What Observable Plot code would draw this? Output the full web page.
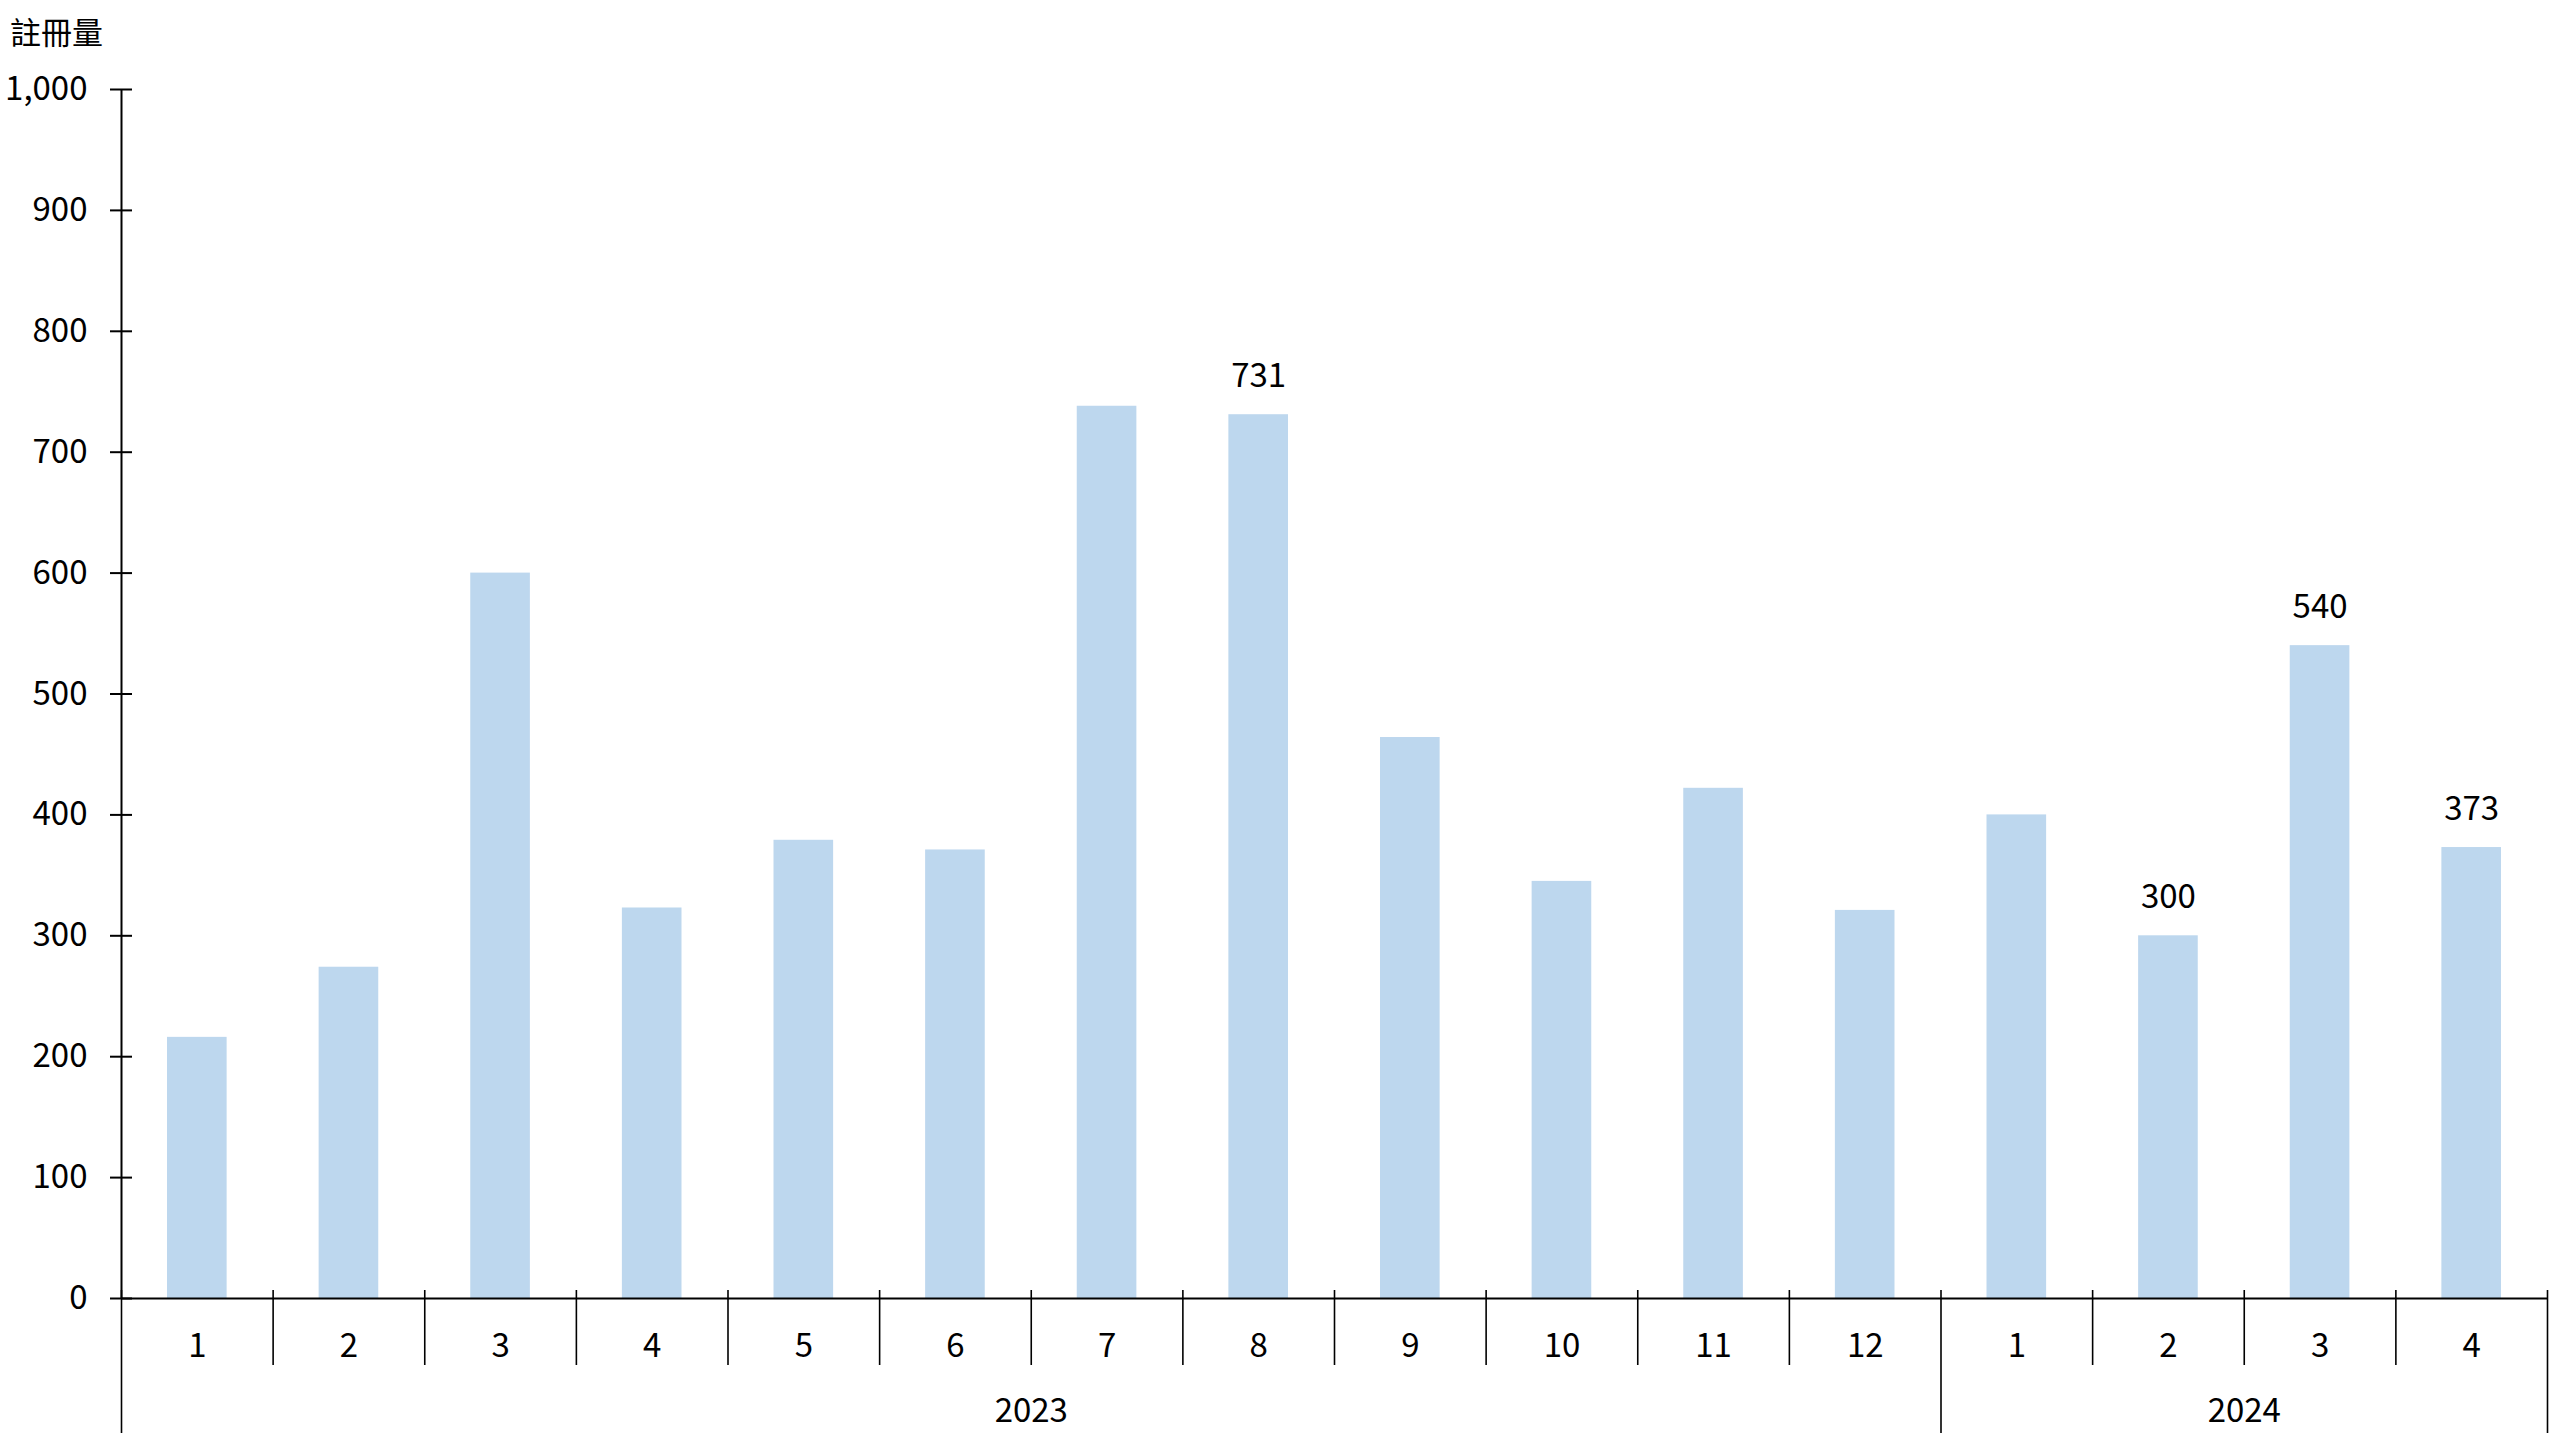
<!DOCTYPE html>
<html><head><meta charset="utf-8">
<script src="https://cdn.jsdelivr.net/npm/d3@7"></script>
<script src="https://cdn.jsdelivr.net/npm/@observablehq/plot@0.6"></script>
<style>
html,body{margin:0;padding:0;background:#fff;}
#title{height:60px;box-sizing:border-box;padding:15px 0 0 10px;font-family:"Noto Sans CJK TC",sans-serif;font-size:31px;line-height:1;color:#000;}
#chart svg{display:block;}
</style></head><body>
<div id="title">註冊量</div>
<div id="chart"></div>
<script>
const monthLabels = ["1","2","3","4","5","6","7","8","9","10","11","12","1","2","3","4"];
const yearOf = ["2023","2023","2023","2023","2023","2023","2023","2023","2023","2023","2023","2023","2024","2024","2024","2024"];
const values = [216,274,600,323,379,371,738,731,464,345,422,321,400,300,540,373];
const labeled = [false,false,false,false,false,false,false,true,false,false,false,false,false,true,true,true];
const yTicks = [0,100,200,300,400,500,600,700,800,900,1000];
const yDomain = [0,1000];

const FONT = '"Noto Sans CJK TC", "Noto Sans", sans-serif';
const data = values.map((v,i)=>({i, month: monthLabels[i], year: yearOf[i], value: v, labeled: labeled[i]}));
const n = data.length;
const yearGroups = d3.groups(data, d=>d.year).map(([year, rows]) => ({year, start: rows[0].i, end: rows[rows.length-1].i+1}));
const yearStarts = new Set(yearGroups.map(g=>g.start));
const monthBoundaries = data.map(d=>d.i).filter(i => i>0 && !yearStarts.has(i));
const yearBoundaries = Array.from(new Set(yearGroups.flatMap(g=>[g.start,g.end])));
const yearCenters = yearGroups.map(g=>(g.start+g.end)/2);
const yearLabelAt = new Map(yearGroups.map(g=>[(g.start+g.end)/2, g.year]));

const chart = Plot.plot({
  width: 2560, height: 1380,
  marginTop: 29, marginRight: 13, marginBottom: 142, marginLeft: 121,
  style: {fontFamily: FONT, fontSize: "33px", color: "#000", background: "#fff", overflow: "visible"},
  x: {type: "linear", domain: [0, n], axis: null},
  y: {domain: yDomain, axis: null},
  marks: [
    Plot.rectY(data, {x1: d=>d.i, x2: d=>d.i+1, y: "value", fill: "#BDD7EE", insetLeft: 46, insetRight: 46}),
    Plot.ruleX([0], {stroke: "#000", strokeWidth: 2}),
    Plot.ruleY([0], {stroke: "#000", strokeWidth: 2}),
    Plot.axisY({ticks: yTicks, tickSize: 22, dx: 11, tickFormat: () => "", strokeWidth: 2, label: null}),
    Plot.axisY({ticks: yTicks, tickSize: 0, tickPadding: 34, tickFormat: d3.format(","), label: null}),
    Plot.axisX({ticks: monthBoundaries, tickSize: 75, dy: -8, tickFormat: () => "", strokeWidth: 1.6, label: null}),
    Plot.axisX({ticks: yearBoundaries, tickSize: 143, dy: -8, tickFormat: () => "", strokeWidth: 1.6, label: null}),
    Plot.axisX({ticks: data.map(d=>d.i+0.5), tickSize: 0, tickPadding: 35, tickFormat: t => monthLabels[Math.floor(t)], label: null}),
    Plot.axisX({ticks: yearCenters, tickSize: 0, tickPadding: 100, tickFormat: t => yearLabelAt.get(t), label: null}),
    Plot.text(data.filter(d=>d.labeled), {x: d=>d.i+0.5, y: "value", text: d=>String(d.value), dy: -38, lineAnchor: "middle", fill: "#000"})
  ]
});
document.getElementById("chart").appendChild(chart);
</script>
</body></html>
